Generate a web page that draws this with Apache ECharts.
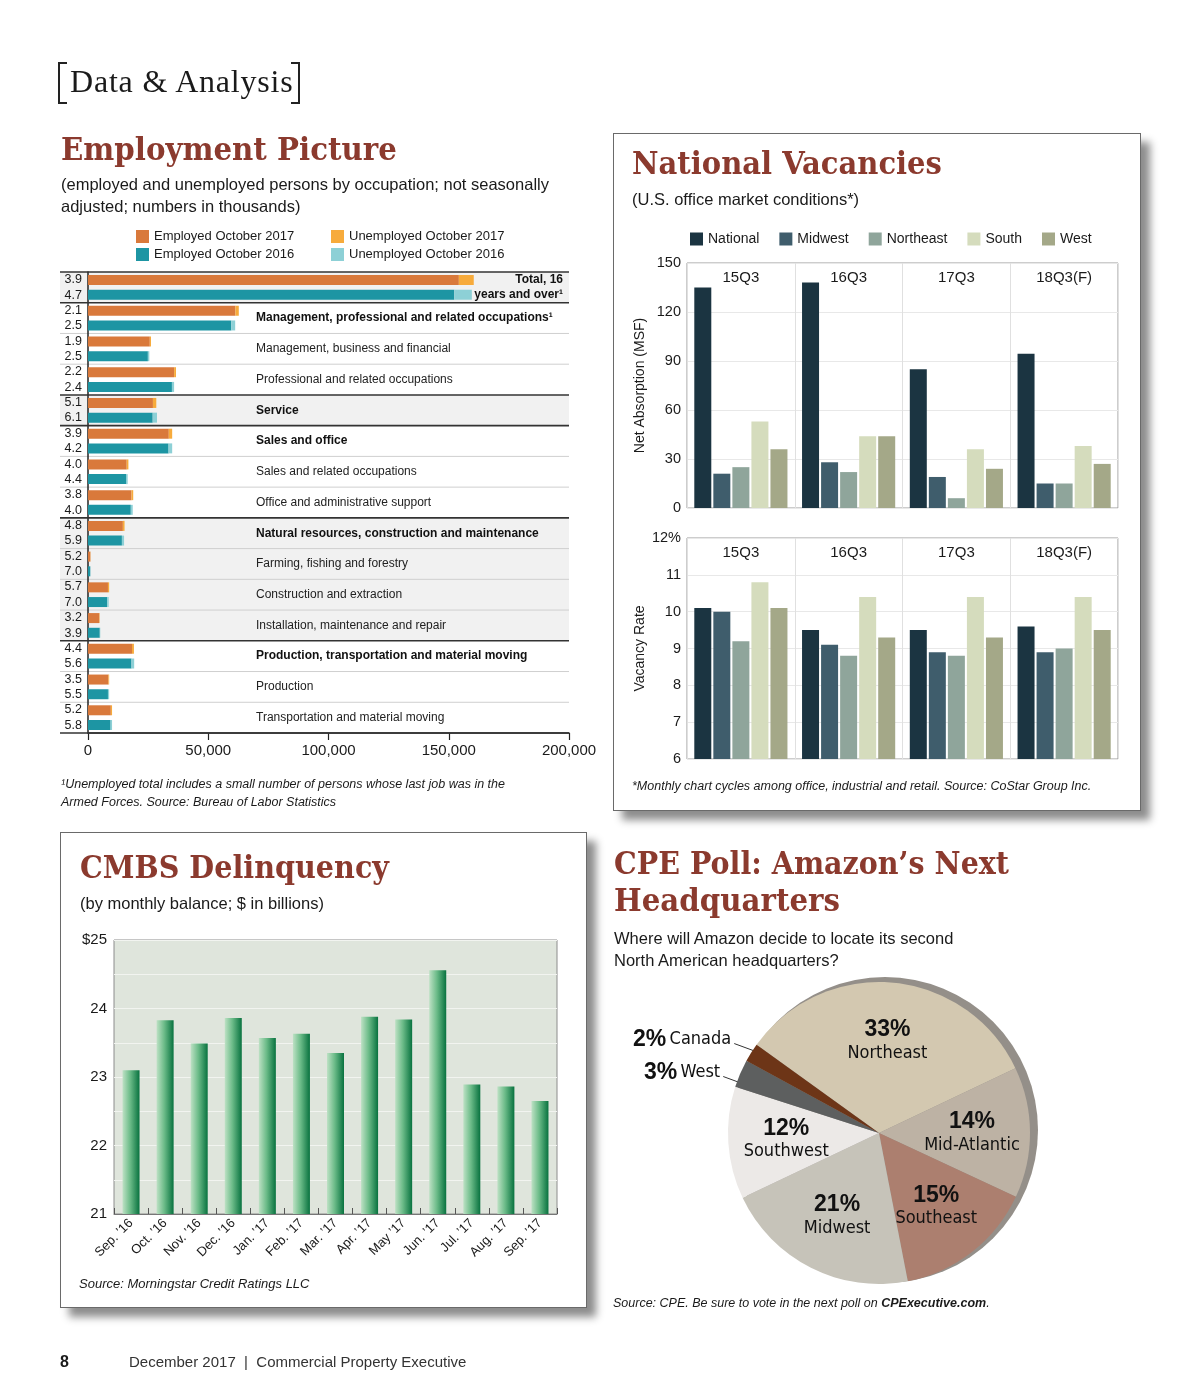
<!DOCTYPE html>
<html><head><meta charset="utf-8">
<script src="https://cdn.jsdelivr.net/npm/echarts@6/dist/echarts.min.js"></script>
<style>
html,body{margin:0;padding:0;background:#fff;}
#page{position:relative;width:1200px;height:1400px;overflow:hidden;font-family:'Liberation Sans',Arial,sans-serif;color:#1a1a1a;}
.t{position:absolute;white-space:nowrap;line-height:1;pointer-events:none;}
.title{font-family:'DejaVu Serif',serif;font-weight:bold;color:#8b3a2e;font-size:32px;transform-origin:0 0;}
.sub{font-size:16.5px;line-height:22px;}
.note{font-style:italic;font-size:12.5px;line-height:18px;}
.box{position:absolute;background:#fff;border:1px solid #6a6a6a;box-shadow:9px 9px 8px rgba(0,0,0,0.45);}
.br{position:absolute;border:2px solid #222;width:7px;height:38px;}
#chart{position:absolute;left:0;top:0;width:1200px;height:1400px;}
</style></head>
<body><div id="page">
<div class="box" style="left:613px;top:133px;width:526px;height:676px"></div>
<div class="box" style="left:60px;top:832px;width:525px;height:474px"></div>
<div id="chart"></div>

<div class="br" style="left:58px;top:62px;border-right:none"></div>
<div class="br" style="left:291px;top:62px;border-left:none"></div>
<div class="t" style="left:70px;top:65px;font-family:'Liberation Serif',serif;font-size:32px;color:#1a1a1a;letter-spacing:0.8px">Data &amp; Analysis</div>

<div class="t title" data-w="336" style="left:61px;top:133px">Employment Picture</div>
<div class="t sub" style="left:61px;top:173px">(employed and unemployed persons by occupation; not seasonally<br>adjusted; numbers in thousands)</div>
<div class="t note" style="left:61px;top:775px">¹Unemployed total includes a small number of persons whose last job was in the<br>Armed Forces. Source: Bureau of Labor Statistics</div>

<div class="t title" data-w="310" style="left:632px;top:147px">National Vacancies</div>
<div class="t sub" style="left:632px;top:188px">(U.S. office market conditions*)</div>
<div class="t note" style="left:632px;top:777px">*Monthly chart cycles among office, industrial and retail. Source: CoStar Group Inc.</div>

<div class="t title" data-w="309" style="left:80px;top:851px">CMBS Delinquency</div>
<div class="t sub" style="left:80px;top:892px">(by monthly balance; $ in billions)</div>
<div class="t note" style="left:79px;top:1275px;font-size:13px">Source: Morningstar Credit Ratings LLC</div>

<div class="t title" data-w="395" style="left:614px;top:847px">CPE Poll: Amazon’s Next</div>
<div class="t title" data-w="226" style="left:614px;top:884px">Headquarters</div>
<div class="t sub" style="left:614px;top:927px">Where will Amazon decide to locate its second<br>North American headquarters?</div>
<div class="t note" style="left:613px;top:1294px">Source: CPE. Be sure to vote in the next poll on <b>CPExecutive.com</b>.</div>

<div class="t" style="left:60px;top:1354px;font-size:16px;font-weight:bold">8</div>
<div class="t" style="left:129px;top:1354px;font-size:15px;color:#333">December 2017&nbsp; |&nbsp; Commercial Property Executive</div>
</div>
<script>
// ---------- Employment Picture data (thousands) ----------
const empGroups = ['Total, 16 years and over¹','Management, professional and related occupations¹','Management, business and financial','Professional and related occupations','Service','Sales and office','Sales and related occupations','Office and administrative support','Natural resources, construction and maintenance','Farming, fishing and forestry','Construction and extraction','Installation, maintenance and repair','Production, transportation and material moving','Production','Transportation and material moving'];
const empMajor = [1,1,0,0,1,1,0,0,1,0,0,0,1,0,0];
const empShaded = [1,0,0,0,1,0,0,0,1,1,1,1,0,0,0];
const employed2017 = [154200, 61300, 25700, 35800, 27000, 33600, 16100, 18100, 14500, 1000, 8300, 4700, 18300, 8500, 9500];
const unemployed2017 = [6200, 1400, 500, 800, 1400, 1400, 700, 700, 700, 60, 500, 160, 800, 300, 500];
const employed2016 = [152300, 59600, 24900, 34900, 26900, 33500, 15800, 17800, 14100, 950, 8000, 4900, 18100, 8300, 9400];
const unemployed2016 = [7300, 1600, 600, 900, 1800, 1500, 700, 800, 900, 70, 600, 200, 1100, 500, 600];
const rate2017 = ['3.9','2.1','1.9','2.2','5.1','3.9','4.0','3.8','4.8','5.2','5.7','3.2','4.4','3.5','5.2'];
const rate2016 = ['4.7','2.5','2.5','2.4','6.1','4.2','4.4','4.0','5.9','7.0','7.0','3.9','5.6','5.5','5.8'];

// ---------- National Vacancies ----------
const quarters = ['15Q3','16Q3','17Q3','18Q3(F)'];
const regions = ['National','Midwest','Northeast','South','West'];
const absNational = [135, 138, 85, 94.5];
const absMidwest = [21, 28, 19, 15];
const absNortheast = [25, 22, 6, 15];
const absSouth = [53, 44, 36, 38];
const absWest = [36, 44, 24, 27];
const vacNational = [10.1, 9.5, 9.5, 9.6];
const vacMidwest = [10.0, 9.1, 8.9, 8.9];
const vacNortheast = [9.2, 8.8, 8.8, 9.0];
const vacSouth = [10.8, 10.4, 10.4, 10.4];
const vacWest = [10.1, 9.3, 9.3, 9.5];

// ---------- CMBS ----------
const months = ['Sep. ’16','Oct. ’16','Nov. ’16','Dec. ’16','Jan. ’17','Feb. ’17','Mar. ’17','Apr. ’17','May ’17','Jun. ’17','Jul. ’17','Aug. ’17','Sep. ’17'];
const cmbsValues = [23.10, 23.83, 23.49, 23.86, 23.57, 23.63, 23.35, 23.88, 23.84, 24.56, 22.89, 22.86, 22.65];

// ---------- CPE Poll ----------
const pollNames = ['Northeast','Mid-Atlantic','Southeast','Midwest','Southwest','West','Canada'];
const pollValues = [33, 14, 15, 21, 12, 3, 2];
const pollOutside = [0,0,0,0,0,1,1];
const pollLabelNudge = [0,0,0,0,0,9,-3];

// ---------- styles ----------
const SANS = "'Liberation Sans', Arial, sans-serif";
const NARROW = "'Liberation Sans Narrow', 'DejaVu Sans Condensed', sans-serif";
const empColors = ['#d9793b','#f7ab3c','#1d95a3','#8dd0d6'];
const regionColors = ['#1b3441','#3f5d6c','#8fa59b','#d5dcbd','#a4a888'];
const pollColors = ['#d3c8b0','#bdb2a4','#ac7f6f','#c6c3b9','#ece9e7','#5d5f5f','#6d3517'];

const chart = echarts.init(document.getElementById('chart'));

const catAxisTop = (grid) => ({
  type:'category', gridIndex:grid, data:quarters, position:'top',
  axisLine:{show:false}, axisTick:{show:false},
  axisLabel:{inside:true, margin:7, fontSize:15, color:'#1a1a1a', fontFamily:SANS},
  splitLine:{show:true, lineStyle:{color:'#e0e0e0', width:1}}
});

const series = [];
// employment bars: first stack is drawn on top of each row
[['Employed October 2017', employed2017, 'y17', 0],
 ['Unemployed October 2017', unemployed2017, 'y17', 1],
 ['Employed October 2016', employed2016, 'y16', 2],
 ['Unemployed October 2016', unemployed2016, 'y16', 3]].forEach(([name, data, stack, ci]) => {
  series.push({name, type:'bar', stack, xAxisIndex:0, yAxisIndex:0, data,
    barWidth:10, barGap:'47%', itemStyle:{color:empColors[ci]}, z:3});
});
const absData = [absNational, absMidwest, absNortheast, absSouth, absWest];
const vacData = [vacNational, vacMidwest, vacNortheast, vacSouth, vacWest];
regions.forEach((r, i) => {
  series.push({name:r, type:'bar', xAxisIndex:1, yAxisIndex:2, data:absData[i], barWidth:17, barGap:'12%', itemStyle:{color:regionColors[i]}});
});
regions.forEach((r, i) => {
  series.push({name:r, type:'bar', xAxisIndex:2, yAxisIndex:3, data:vacData[i], barWidth:17, barGap:'12%', itemStyle:{color:regionColors[i]}});
});
series.push({name:'CMBS', type:'bar', xAxisIndex:3, yAxisIndex:4, data:cmbsValues, barWidth:17,
  itemStyle:{color:{type:'linear', x:0, y:0, x2:1, y2:0, colorStops:[
    {offset:0, color:'#bde1c4'},{offset:0.45, color:'#6bbb88'},{offset:1, color:'#08723f'}]}}});

// pie rim (shadow edge)
series.push({type:'pie', center:[885,1130], radius:153, silent:true, z:1,
  label:{show:false}, labelLine:{show:false},
  data:[{value:1, name:'rim', itemStyle:{color:'#948f89'}}]});
// pie
series.push({type:'pie', center:[879,1133], radius:151, startAngle:144.2, clockwise:true, z:2,
  avoidLabelOverlap:false, silent:true,
  itemStyle:{borderWidth:0},
  labelLine:{show:true, length:10, length2:8, smooth:false, lineStyle:{color:'#333', width:1}},
  labelLayout:(p) => {
    if (!p.labelLinePoints) return {};
    const nudge = pollLabelNudge[p.dataIndex] || 0;
    const p0 = [p.labelLinePoints[0][0] + 2, p.labelLinePoints[0][1] + 1 + nudge];
    const end = [p0[0] - 19, p0[1] - 7];
    return {x:end[0] - 3, y:end[1] - 4, align:'right', verticalAlign:'middle', hideOverlap:false, moveOverlap:false,
            labelLinePoints:[p0, end, end]};
  },
  data: pollNames.map((n,i) => ({name:n, value:pollValues[i], itemStyle:{color:pollColors[i]},
    label: pollOutside[i] ? {show:true, position:'outside', formatter:'{p|{c}%} {n|{b}}',
      rich:{p:{fontSize:23, fontWeight:'bold', fontFamily:SANS, color:'#111'}, n:{fontSize:18, fontFamily:NARROW, color:'#111'}}}
      : {show:false},
    labelLine: pollOutside[i] ? {show:true} : {show:false}}))});
// pie labels (inside, at ~60% radius)
series.push({type:'pie', center:[879,1133], radius:[0,180], startAngle:144.2, clockwise:true, z:3, silent:true,
  itemStyle:{color:'rgba(0,0,0,0)', borderWidth:0},
  labelLine:{show:false},
  label:{show:true, position:'inside', formatter:'{p|{c}%}\n{n|{b}}',
    rich:{p:{fontSize:23, fontWeight:'bold', fontFamily:SANS, color:'#111', lineHeight:25},
          n:{fontSize:18, fontFamily:NARROW, color:'#111', lineHeight:22}}},
  data: pollNames.map((n,i) => ({name:n, value:pollValues[i], label:{show:!pollOutside[i]}}))});

const option = {
  animation:false,
  textStyle:{fontFamily:SANS, color:'#1a1a1a'},
  legend:[
    {data:['Employed October 2017','Employed October 2016'], orient:'vertical', left:136, top:230, padding:0,
     itemWidth:13, itemHeight:13, itemGap:5, icon:'rect', selectedMode:false, textStyle:{fontSize:13, color:'#1a1a1a', fontFamily:SANS}},
    {data:['Unemployed October 2017','Unemployed October 2016'], orient:'vertical', left:331, top:230, padding:0,
     itemWidth:13, itemHeight:13, itemGap:5, icon:'rect', selectedMode:false, textStyle:{fontSize:13, color:'#1a1a1a', fontFamily:SANS}},
    {data:regions, orient:'horizontal', left:690, top:232, padding:0, itemWidth:13, itemHeight:13, itemGap:20,
     icon:'rect', selectedMode:false, textStyle:{fontSize:14, color:'#1a1a1a', fontFamily:SANS}}
  ],
  grid:[
    {left:88, top:272, width:481, height:461, outerBoundsMode:'none'},
    {left:687, top:263, width:431, height:245, show:true, backgroundColor:'#fff', borderColor:'#9a9a9a', borderWidth:1, outerBoundsMode:'none'},
    {left:687, top:538, width:431, height:221, show:true, backgroundColor:'#fff', borderColor:'#9a9a9a', borderWidth:1, outerBoundsMode:'none'},
    {left:114, top:940, width:443, height:274, show:true, backgroundColor:'#dfe5dc', borderColor:'#8c8c8c', borderWidth:1, outerBoundsMode:'none'}
  ],
  xAxis:[
    {type:'value', gridIndex:0, min:0, max:200000, interval:50000,
     axisLine:{show:true, lineStyle:{color:'#222', width:1.5}},
     axisTick:{show:true, length:7, lineStyle:{color:'#222', width:1.2}},
     axisLabel:{fontSize:15, color:'#1a1a1a', margin:10, fontFamily:SANS},
     splitLine:{show:false}},
    catAxisTop(1),
    catAxisTop(2),
    {type:'category', gridIndex:3, data:months,
     axisLine:{show:true, lineStyle:{color:'#777'}},
     axisTick:{show:true, inside:true, length:6, interval:0, lineStyle:{color:'#555'}},
     axisLabel:{rotate:45, interval:0, fontSize:13, color:'#1a1a1a', margin:7, fontFamily:SANS},
     splitLine:{show:false}}
  ],
  yAxis:[
    {type:'category', gridIndex:0, data:empGroups, inverse:true,
     axisLine:{show:true, lineStyle:{color:'#222', width:1.5}}, axisTick:{show:false}, splitLine:{show:false},
     axisLabel:{interval:0, margin:6, fontSize:12.5, lineHeight:15.4, color:'#1a1a1a', fontFamily:SANS,
       formatter:(v, i) => rate2017[i] + '\n' + rate2016[i]}},
    {type:'category', gridIndex:0, data:empGroups, inverse:true, position:'left',
     axisLine:{show:false}, axisTick:{show:false}, splitLine:{show:false},
     axisLabel:{interval:0, inside:true, margin:168, fontSize:12, color:'#1a1a1a', fontFamily:SANS,
       formatter:(v, i) => i === 0 ? '{t|Total, 16}\n{t|years and over¹}' : (empMajor[i] ? '{b|' + v + '}' : '{n|' + v + '}'),
       rich:{b:{fontWeight:'bold', fontSize:12, fontFamily:SANS, color:'#111'},
             n:{fontSize:12, fontFamily:SANS, color:'#222'},
             t:{fontWeight:'bold', fontSize:12, fontFamily:SANS, color:'#111', width:307, align:'right', lineHeight:15.4}}}},
    {type:'value', gridIndex:1, min:0, max:150, interval:30,
     name:'Net Absorption (MSF)', nameLocation:'middle', nameRotate:90, nameGap:40,
     nameTextStyle:{fontSize:14, color:'#1a1a1a', fontFamily:SANS},
     axisLine:{show:false}, axisTick:{show:false},
     axisLabel:{fontSize:14.5, color:'#1a1a1a', margin:6, fontFamily:SANS},
     splitLine:{show:true, lineStyle:{color:'#e8e8e8'}}},
    {type:'value', gridIndex:2, min:6, max:12, interval:1,
     name:'Vacancy Rate', nameLocation:'middle', nameRotate:90, nameGap:40,
     nameTextStyle:{fontSize:14, color:'#1a1a1a', fontFamily:SANS},
     axisLine:{show:false}, axisTick:{show:false},
     axisLabel:{fontSize:14.5, color:'#1a1a1a', margin:6, fontFamily:SANS, formatter:(v) => v === 12 ? '12%' : String(v)},
     splitLine:{show:true, lineStyle:{color:'#e8e8e8'}}},
    {type:'value', gridIndex:3, min:21, max:25, interval:0.5,
     axisLine:{show:false}, axisTick:{show:false},
     axisLabel:{fontSize:15, color:'#1a1a1a', margin:7, fontFamily:SANS,
       formatter:(v) => (v % 1 === 0) ? (v === 25 ? '$25' : String(v)) : ''},
     splitLine:{show:true, lineStyle:{color:'#f2f4f0', width:1}}}
  ],
  series
};
chart.setOption(option);

// decorations for employment table: shaded bands and separators, from axis scale
function drawEmpDecor(){
  const c0 = chart.convertToPixel({yAxisIndex:0}, 0);
  const c1 = chart.convertToPixel({yAxisIndex:0}, 1);
  const step = c1 - c0;
  const xR = chart.convertToPixel({xAxisIndex:0}, 200000);
  const xL = 60;
  const els = [];
  for (let k = 0; k < empGroups.length; k++) {
    if (empShaded[k]) {
      els.push({type:'rect', z:-10, silent:true, shape:{x:xL, y:c0 - step/2 + k*step, width:xR - xL, height:step}, style:{fill:'#f1f1f1'}});
    }
  }
  for (let k = 0; k <= empGroups.length; k++) {
    const y = c0 - step/2 + k*step;
    const major = (k === empGroups.length) || empMajor[k];
    els.push({type:'line', z: major ? 5 : -5, silent:true, shape:{x1:xL, y1:y, x2:xR, y2:y},
      style:{stroke: major ? '#333' : '#cfcfcf', lineWidth: major ? 1.6 : 1}});
  }
  chart.setOption({graphic:{elements:els}});
}
drawEmpDecor();

// fit serif titles to reference widths
document.querySelectorAll('.title').forEach(el => {
  const w = el.getBoundingClientRect().width;
  const target = +el.dataset.w;
  if (w > 0) el.style.transform = 'scaleX(' + (target / w).toFixed(3) + ')';
});
</script>
</body></html>
